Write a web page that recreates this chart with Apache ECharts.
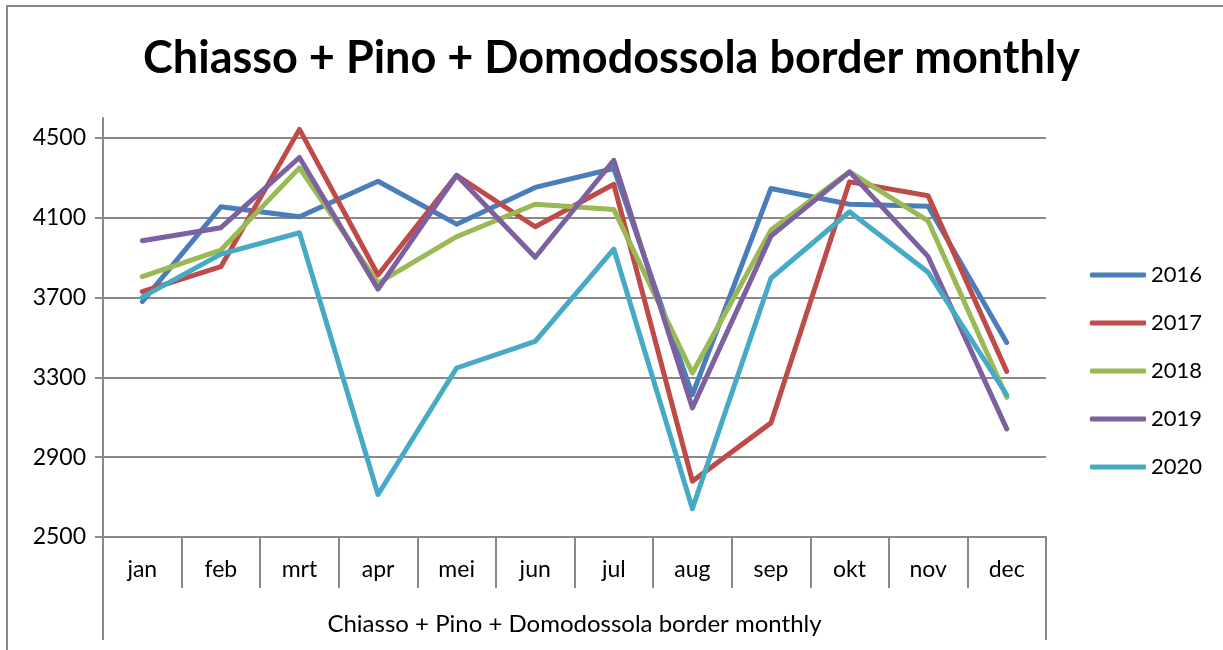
<!DOCTYPE html>
<html lang="en">
<head>
    <meta charset="UTF-8">
    <title>Chiasso + Pino + Domodossola border monthly</title>
    <script type="text/javascript" src="https://cdn.jsdelivr.net/npm/echarts@6.0.0/dist/echarts.min.js"></script>
    <style type="text/css">
        html, body {
            margin: 0;
            padding: 0;
            background: #fff;
        }
        #chart {
            width: 1223px;
            height: 650px;
        }
    </style>
</head>
<body>

<div id="chart"></div>

<script type="text/javascript">
    var titleText = 'Chiasso + Pino + Domodossola border monthly';
    var months = ['jan', 'feb', 'mrt', 'apr', 'mei', 'jun', 'jul', 'aug', 'sep', 'okt', 'nov', 'dec'];
    var years = ['2016', '2017', '2018', '2019', '2020'];
    var yTicks = [2500, 2900, 3300, 3700, 4100, 4500];

    var v2016 = [3680, 4155, 4105, 4283, 4068, 4252, 4347, 3213, 4247, 4168, 4158, 3475];
    var v2017 = [3730, 3855, 4543, 3813, 4313, 4055, 4268, 2780, 3072, 4280, 4210, 3330];
    var v2018 = [3805, 3938, 4350, 3772, 4005, 4168, 4142, 3322, 4038, 4330, 4085, 3200];
    var v2019 = [3985, 4050, 4402, 3742, 4313, 3902, 4388, 3147, 4008, 4330, 3905, 3042];
    var v2020 = [3702, 3918, 4025, 2713, 3347, 3480, 3943, 2642, 3797, 4130, 3827, 3213];

    var colors = ['#4a7ebb', '#be4b48', '#98b954', '#7d60a0', '#46aac5'];
    var values = [v2016, v2017, v2018, v2019, v2020];

    // fit the title font to the width it has in the picture
    var ctx = document.createElement('canvas').getContext('2d');
    ctx.font = 'bold 46px Lato';
    var titleSize = Math.round(46 * 930 / ctx.measureText(titleText).width);
    ctx.font = '22px Lato';
    var groupSize = Math.round(22 * 504 / ctx.measureText(titleText).width);

    var gray = '#898989';
    var myChart = echarts.init(document.getElementById('chart'));

    var option = {
        animation: false,
        textStyle: { fontFamily: 'Lato' },
        title: {
            text: titleText,
            left: 'center',
            top: 31,
            textStyle: { fontFamily: 'Lato', fontWeight: 'bold', fontSize: titleSize, color: '#000' }
        },
        graphic: [{
            type: 'rect',
            shape: { x: 7, y: 6, width: 1240, height: 670 },
            style: { fill: null, stroke: gray, lineWidth: 2 },
            silent: true
        }],
        legend: {
            orient: 'vertical',
            left: 1085,
            top: 259,
            itemWidth: 56,
            itemHeight: 5,
            itemGap: 26,
            icon: 'roundRect',
            data: years,
            textStyle: { fontSize: 22, color: '#000', fontFamily: 'Lato' }
        },
        grid: {
            left: 103,
            right: 177,
            top: 118,
            bottom: 113
        },
        xAxis: [{
            type: 'category',
            data: months,
            position: 'bottom',
            axisLine: { show: true, lineStyle: { color: gray, width: 2 } },
            axisTick: { show: true, length: 51, lineStyle: { color: gray, width: 2 } },
            axisLabel: { fontSize: 23, color: '#000', margin: 21, fontFamily: 'Lato' }
        }, {
            type: 'category',
            data: [titleText],
            position: 'bottom',
            axisLine: { show: false },
            axisTick: { show: true, length: 103, lineStyle: { color: gray, width: 2 } },
            axisLabel: { fontSize: groupSize, color: '#000', margin: 75, fontFamily: 'Lato' }
        }],
        yAxis: {
            type: 'value',
            min: 2500,
            max: 4600,
            interval: 400,
            axisLine: { show: true, lineStyle: { color: gray, width: 2 } },
            axisTick: { show: true, length: 8, customValues: yTicks, lineStyle: { color: gray, width: 2 } },
            axisLabel: {
                fontSize: 23, color: '#000', margin: 17, customValues: yTicks, fontFamily: 'Lato',
                formatter: function (v) { return String(v); }
            },
            splitLine: { show: true, lineStyle: { color: gray, width: 2 } }
        },
        series: years.map(function (y, i) {
            return {
                name: y,
                type: 'line',
                xAxisIndex: 0,
                data: values[i],
                symbol: 'none',
                color: colors[i],
                lineStyle: { width: 5, color: colors[i], cap: 'round', join: 'round' }
            };
        })
    };
    myChart.setOption(option);
</script>

</body>
</html>
